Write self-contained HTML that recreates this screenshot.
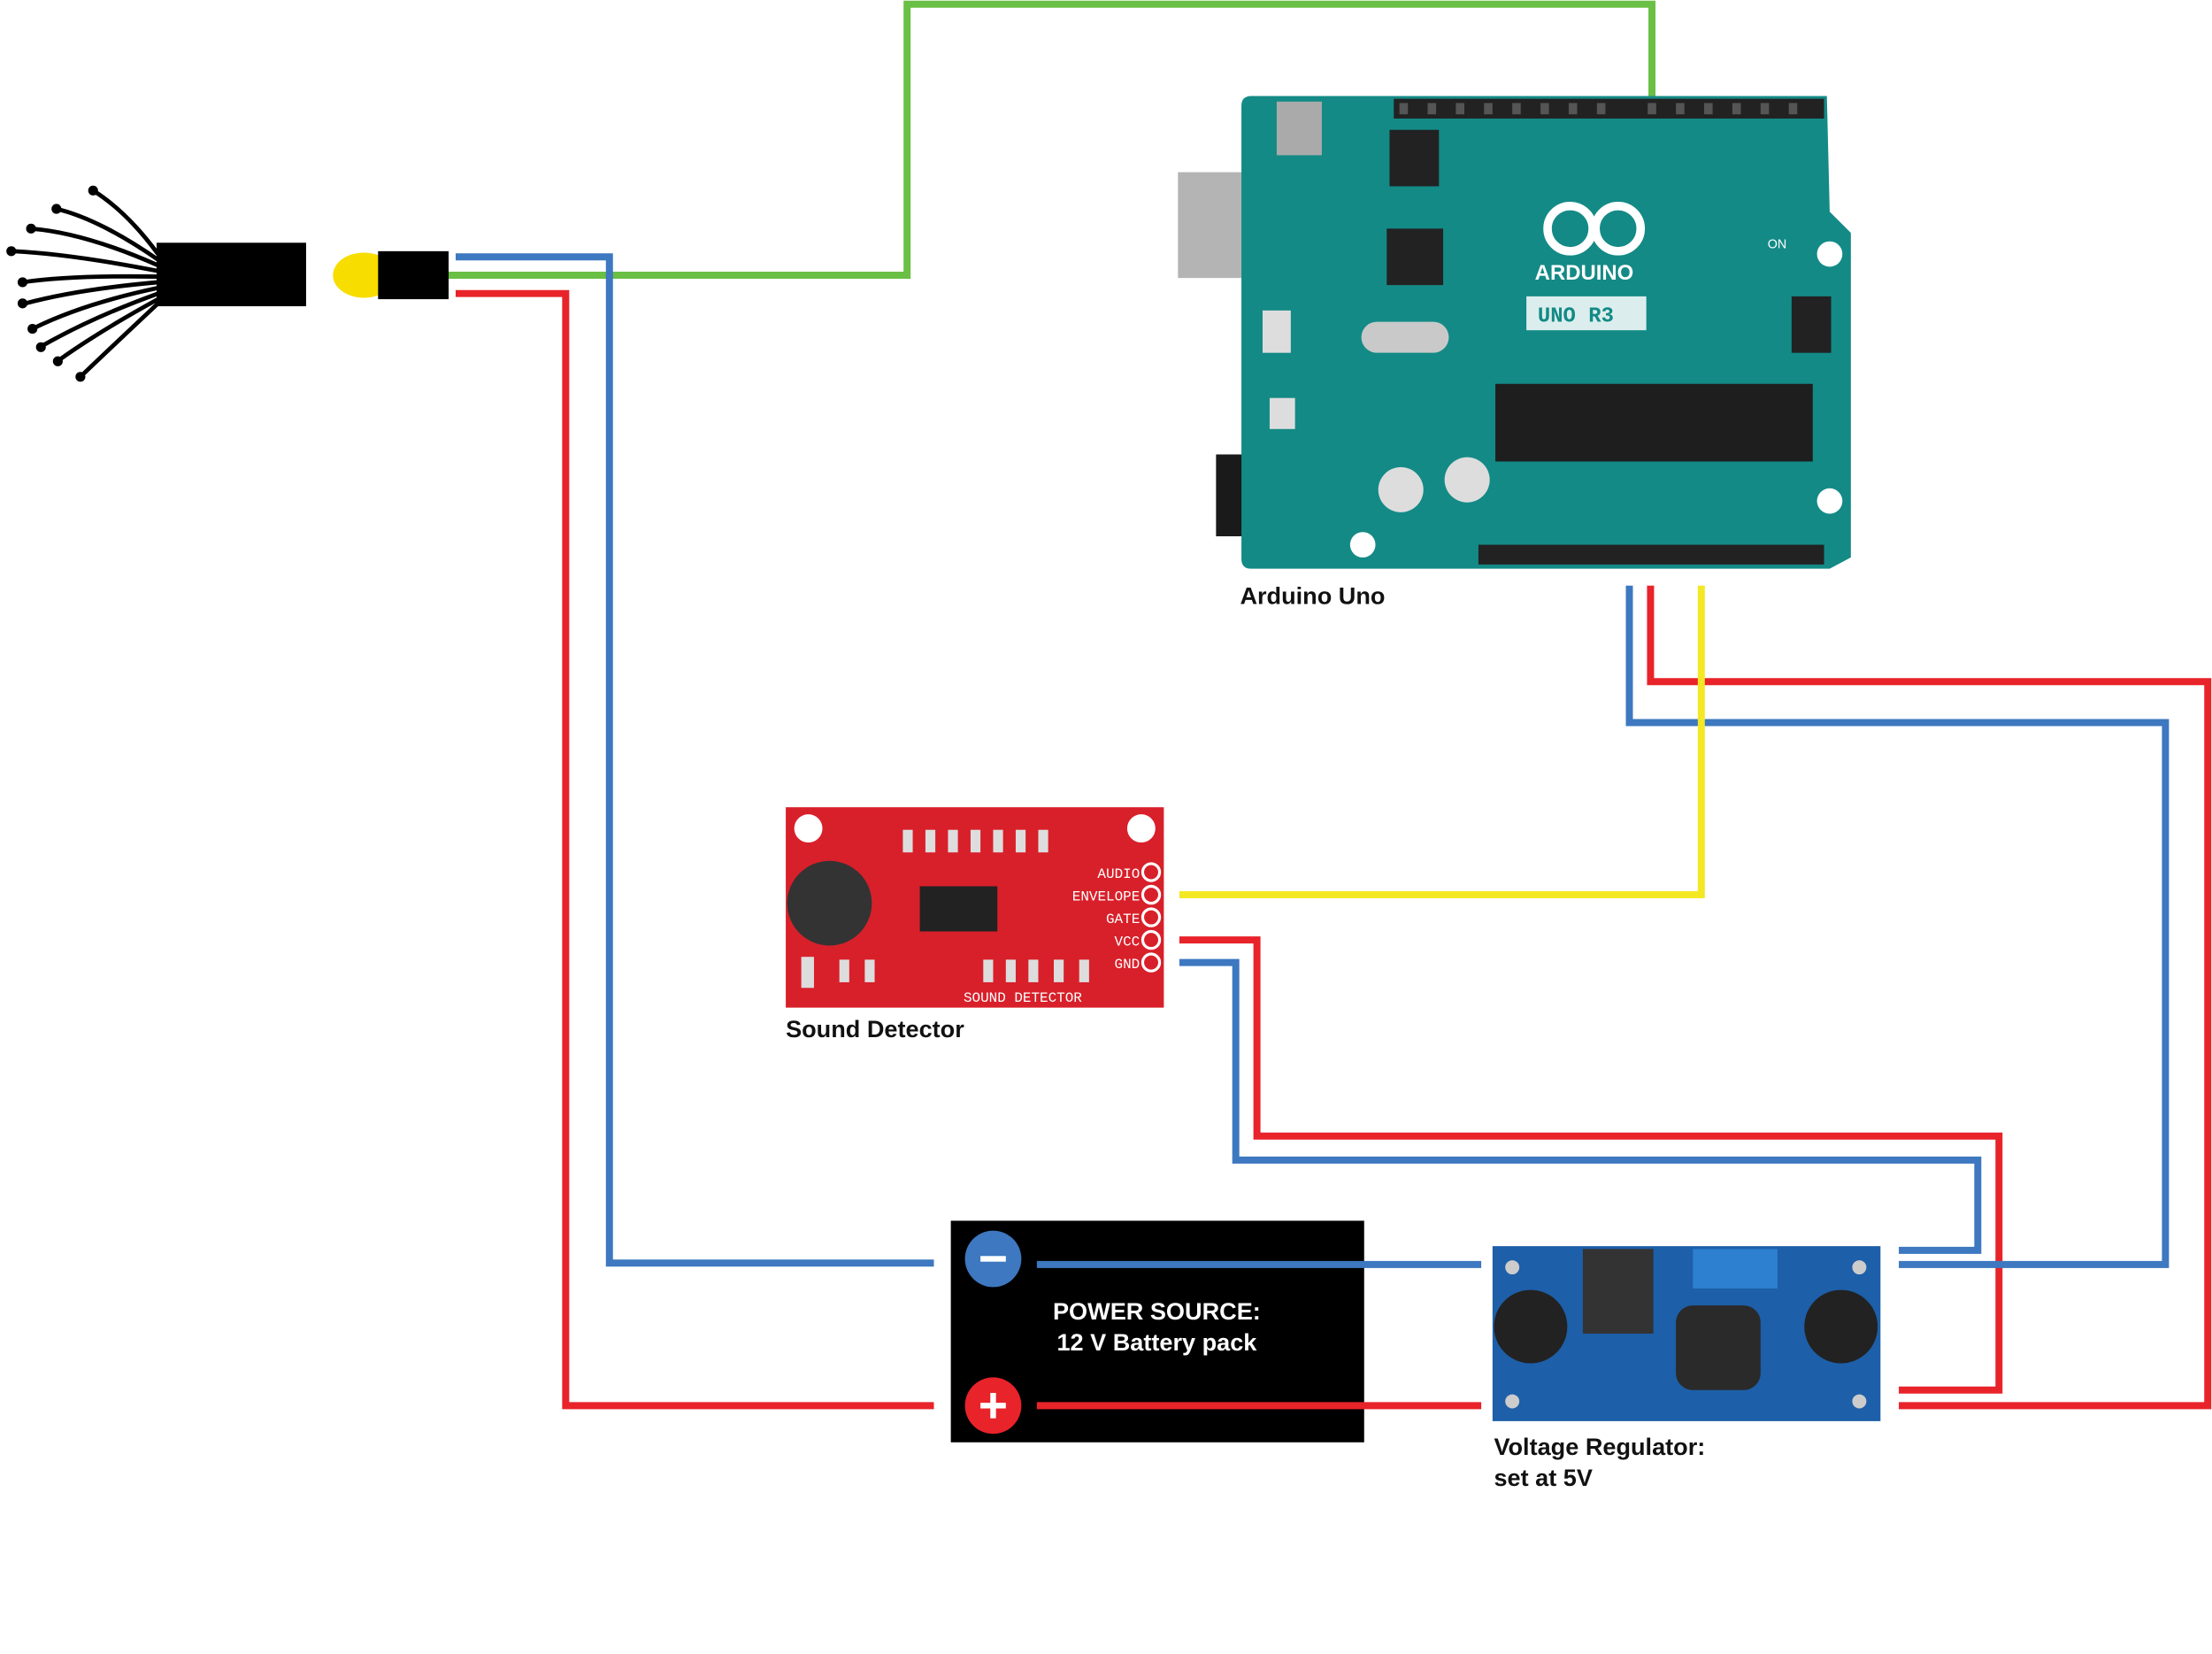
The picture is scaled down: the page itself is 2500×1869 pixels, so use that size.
<!DOCTYPE html>
<html><head><meta charset="utf-8"><style>html,body{margin:0;padding:0;background:#fff}svg{display:block}</style></head>
<body>
<svg width="2500" height="1869" viewBox="0 0 1568 1172" preserveAspectRatio="none" xmlns="http://www.w3.org/2000/svg" font-family="Liberation Sans, sans-serif">
<rect width="1568" height="1172" fill="#fff"/>
<g fill="none" stroke-width="5">
<polyline stroke="#6abf45" points="318,195 643,195 643,3 1171,3 1171,68"/>
<polyline stroke="#3d78c0" points="323,182 432,182 432,895 662,895"/>
<polyline stroke="#e8232a" points="323,208 401,208 401,996 662,996"/>
<polyline stroke="#3d78c0" points="1346,886 1402,886 1402,822 876,822 876,682 836,682"/>
<polyline stroke="#e8232a" points="1346,985 1417,985 1417,805 891,805 891,666 836,666"/>
<polyline stroke="#3d78c0" points="1346,896 1535,896 1535,512 1155,512 1155,415"/>
<polyline stroke="#e8232a" points="1346,996 1565,996 1565,483 1170,483 1170,415"/>
<polyline stroke="#f4e825" points="836,634 1206,634 1206,415"/>
</g>
<!-- fiber -->
<rect x="111" y="172" width="106" height="45" fill="#000"/>
<g stroke="#000" stroke-width="3" fill="none">
<path d="M112,180 Q90,150 66,135"/><path d="M112,184 Q70,155 40,148"/><path d="M112,188 Q60,165 22,162"/>
<path d="M112,192 Q50,180 10,178"/><path d="M112,196 Q50,195 16,200"/><path d="M112,200 Q55,205 18,215"/>
<path d="M112,204 Q60,215 25,232"/><path d="M112,208 Q65,225 30,245"/><path d="M112,212 Q70,235 42,255"/><path d="M112,215 Q80,245 58,266"/>
</g>
<g fill="#000"><circle cx="66" cy="135" r="3.5"/><circle cx="40" cy="148" r="3.5"/><circle cx="22" cy="162" r="3.5"/><circle cx="8" cy="178" r="3.5"/><circle cx="16" cy="200" r="3.5"/><circle cx="16" cy="215" r="3.5"/><circle cx="23" cy="233" r="3.5"/><circle cx="29" cy="246" r="3.5"/><circle cx="41" cy="256" r="3.5"/><circle cx="57" cy="267" r="3.5"/></g>
<ellipse cx="258" cy="195" rx="22" ry="16" fill="#f7dd00"/>
<rect x="268" y="178" width="50" height="34" fill="#000"/>
<!-- arduino -->
<rect x="835" y="122" width="103" height="75" fill="#b4b4b4"/>
<rect x="862" y="322" width="93" height="58" fill="#1a1a1a"/>
<path d="M887,68 H1295 L1297,150 L1312,165 V395 L1297,403 H887 Q880,403 880,396 V75 Q880,68 887,68Z" fill="#138a86"/>
<rect x="988" y="70" width="305" height="14" fill="#222"/>
<rect x="1048" y="386" width="245" height="14" fill="#222"/>
<g fill="#555"><rect x="992" y="73" width="6" height="8"/><rect x="1012" y="73" width="6" height="8"/><rect x="1032" y="73" width="6" height="8"/><rect x="1052" y="73" width="6" height="8"/><rect x="1072" y="73" width="6" height="8"/><rect x="1092" y="73" width="6" height="8"/><rect x="1112" y="73" width="6" height="8"/><rect x="1132" y="73" width="6" height="8"/><rect x="1168" y="73" width="6" height="8"/><rect x="1188" y="73" width="6" height="8"/><rect x="1208" y="73" width="6" height="8"/><rect x="1228" y="73" width="6" height="8"/><rect x="1248" y="73" width="6" height="8"/><rect x="1268" y="73" width="6" height="8"/></g>
<rect x="1060" y="272" width="225" height="55" fill="#1e1e1e"/>
<rect x="983" y="162" width="40" height="40" fill="#222"/>
<rect x="985" y="92" width="35" height="40" fill="#222"/>
<rect x="905" y="72" width="32" height="38" fill="#aaa"/>
<rect x="1082" y="210" width="85" height="24" fill="#fff" opacity=".85"/>
<text x="1090" y="228" font-size="15" font-family="Liberation Mono, monospace" fill="#138a86" font-weight="bold">UNO R3</text>
<text x="1088" y="198" font-size="15" fill="#fff" font-weight="bold">ARDUINO</text>
<circle cx="1113" cy="162" r="16" fill="none" stroke="#fff" stroke-width="6"/><circle cx="1147" cy="162" r="16" fill="none" stroke="#fff" stroke-width="6"/>
<circle cx="993" cy="347" r="16" fill="#ddd"/><circle cx="1040" cy="340" r="16" fill="#ddd"/>
<rect x="1270" y="210" width="28" height="40" fill="#222"/>
<rect x="900" y="282" width="18" height="22" fill="#ddd"/>
<rect x="895" y="220" width="20" height="30" fill="#ddd"/>
<text x="1253" y="176" font-size="9" fill="#fff">ON</text>
<circle cx="1297" cy="180" r="9" fill="#fff"/><circle cx="1297" cy="355" r="9" fill="#fff"/><circle cx="966" cy="386" r="9" fill="#fff"/>
<rect x="965" y="228" width="62" height="22" rx="11" fill="#c9c9c9"/>
<text x="879" y="428" font-size="17" font-weight="bold" fill="#111">Arduino Uno</text>
<!-- sound detector -->
<rect x="557" y="572" width="268" height="142" fill="#d8202a"/>
<circle cx="573" cy="587" r="10" fill="#fff"/><circle cx="809" cy="587" r="10" fill="#fff"/>
<circle cx="588" cy="640" r="30" fill="#333"/>
<rect x="652" y="628" width="55" height="32" fill="#222"/>
<g fill="#ddd"><rect x="640" y="588" width="7" height="16"/><rect x="656" y="588" width="7" height="16"/><rect x="672" y="588" width="7" height="16"/><rect x="688" y="588" width="7" height="16"/><rect x="704" y="588" width="7" height="16"/><rect x="720" y="588" width="7" height="16"/><rect x="736" y="588" width="7" height="16"/>
<rect x="595" y="680" width="7" height="16"/><rect x="613" y="680" width="7" height="16"/><rect x="697" y="680" width="7" height="16"/><rect x="713" y="680" width="7" height="16"/><rect x="729" y="680" width="7" height="16"/><rect x="747" y="680" width="7" height="16"/><rect x="765" y="680" width="7" height="16"/><rect x="568" y="678" width="9" height="22"/></g>
<g fill="none" stroke="#fff" stroke-width="2"><circle cx="816" cy="618" r="6"/><circle cx="816" cy="634" r="6"/><circle cx="816" cy="650" r="6"/><circle cx="816" cy="666" r="6"/><circle cx="816" cy="682" r="6"/></g>
<g font-size="10" fill="#fff" font-family="Liberation Mono, monospace" text-anchor="end"><text x="808" y="622">AUDIO</text><text x="808" y="638">ENVELOPE</text><text x="808" y="654">GATE</text><text x="808" y="670">VCC</text><text x="808" y="686">GND</text></g>
<text x="683" y="710" font-size="10" fill="#fff" font-family="Liberation Mono, monospace">SOUND DETECTOR</text>
<text x="557" y="735" font-size="17" font-weight="bold" fill="#111">Sound Detector</text>
<!-- battery -->
<rect x="674" y="865" width="293" height="157" fill="#000"/>
<g stroke-width="5">
<line stroke="#3d78c0" x1="735" y1="896" x2="1050" y2="896"/>
<line stroke="#e8232a" x1="735" y1="996" x2="1050" y2="996"/>
</g>
<circle cx="704" cy="892" r="20" fill="#3d78c0"/><rect x="695" y="890" width="18" height="4" fill="#fff"/>
<circle cx="704" cy="996" r="20" fill="#e8232a"/><rect x="695" y="994" width="18" height="4" fill="#fff"/><rect x="702" y="987" width="4" height="18" fill="#fff"/>
<text x="820" y="935" font-size="17" font-weight="bold" fill="#fff" text-anchor="middle">POWER SOURCE:</text>
<text x="820" y="957" font-size="17" font-weight="bold" fill="#fff" text-anchor="middle">12 V Battery pack</text>
<!-- regulator -->
<rect x="1058" y="883" width="275" height="124" fill="#1d5fa8"/>
<circle cx="1085" cy="940" r="26" fill="#222"/><circle cx="1305" cy="940" r="26" fill="#222"/>
<rect x="1122" y="885" width="50" height="60" fill="#333"/>
<rect x="1188" y="925" width="60" height="60" rx="12" fill="#2a2a2a"/>
<rect x="1200" y="885" width="60" height="28" fill="#2d7fd0"/>
<g fill="#ccc"><circle cx="1072" cy="898" r="5"/><circle cx="1072" cy="993" r="5"/><circle cx="1318" cy="898" r="5"/><circle cx="1318" cy="993" r="5"/></g>
<text x="1059" y="1031" font-size="17" font-weight="bold" fill="#111">Voltage Regulator:</text>
<text x="1059" y="1053" font-size="17" font-weight="bold" fill="#111">set at 5V</text>
</svg>
</body></html>
